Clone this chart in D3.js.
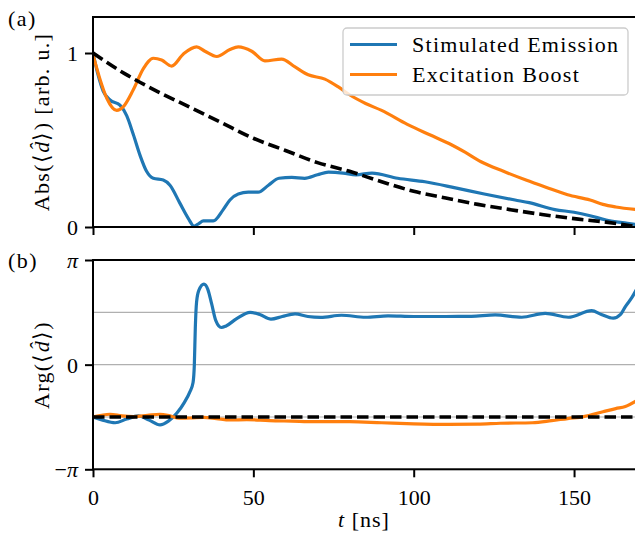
<!DOCTYPE html>
<html><head><meta charset="utf-8">
<script src="https://cdn.jsdelivr.net/npm/d3@7"></script>
<style>
body{margin:0;background:#fff}
text{font-family:"Liberation Serif","Times New Roman",serif;fill:#000}
</style>
</head><body><svg id="c" width="635" height="538"></svg>
<script>
// ---- data ----
const xTicks = [0, 50, 100, 150];
const absTicks = [0, 1];
const argTicks = [-Math.PI, 0, Math.PI];
const argTickSign = ["\u2212", "", ""];
const argTickSym = ["\u03C0", "0", "\u03C0"];
const argGrid = [-Math.PI, -Math.PI / 2, 0, Math.PI / 2, Math.PI];
const seriesNames = ["Stimulated Emission", "Excitation Boost"];

// (a) absolute value
const stimAbsT = [0,1.5,3.2,5.3,8.4,10.5,12.6,14.7,16.7,18.8,21.9,24,27,29.7,31.5,33,34.4,37.5,40.6,42.7,45.3,48.4,51.5,54.7,58,62,66,70,73.4,78,82,87,95,103.5,113,122,131.6,136,144,150,155,160,165,170];
const stimAbs  = [1.0,0.88,0.78,0.73,0.70,0.64,0.53,0.41,0.32,0.28,0.27,0.24,0.14,0.05,0.005,0.02,0.035,0.035,0.10,0.155,0.19,0.20,0.20,0.24,0.28,0.285,0.28,0.30,0.315,0.31,0.30,0.31,0.28,0.26,0.225,0.19,0.155,0.14,0.10,0.085,0.065,0.04,0.025,0.012];

const boostAbsT = [0,2,4.3,7.4,9.4,12.6,15.7,18.8,21.4,24.5,28.2,32.3,34.9,38.6,42.7,45.3,49.5,53.6,58.8,63,67.1,72.3,76.5,80,85,90,98,105,111,116,121,128,135,141,148,155,159,163,170];
const boostAbs  = [0.99,0.86,0.74,0.67,0.69,0.79,0.91,0.97,0.96,0.925,0.995,1.035,1.01,0.98,1.02,1.035,1.01,0.955,0.965,0.92,0.875,0.85,0.805,0.76,0.71,0.67,0.59,0.53,0.48,0.43,0.375,0.32,0.27,0.23,0.185,0.155,0.13,0.115,0.10];

const refAbsT = [0,10,20,30,40,50,60,70,80,90,100,110,120,130,140,150,160,170];
const refAbs  = [1.0,0.88,0.78,0.69,0.60,0.51,0.44,0.37,0.32,0.26,0.205,0.167,0.13,0.10,0.072,0.048,0.028,0.0];

// (b) argument (radians)
const stimArgT = [0,3,6.9,10.5,14.1,17.5,20.9,23.5,26.1,28.5,30.2,31.2,31.6,31.9,32.3,33.0,34.6,35.8,37,38.3,40,41.5,44.8,49,52,55.5,59,63,67,71,77.5,85,92,100,110,118,125.4,133.7,141,148.2,155.5,158.5,162.2,164.5,166,168,170];
const stimArg  = [-1.571,-1.665,-1.744,-1.634,-1.539,-1.665,-1.810,-1.696,-1.461,-1.131,-0.817,-0.534,0.0,1.100,1.885,2.231,2.419,2.262,1.822,1.319,1.115,1.162,1.382,1.571,1.508,1.367,1.445,1.524,1.445,1.420,1.483,1.423,1.464,1.445,1.445,1.451,1.492,1.423,1.539,1.423,1.621,1.508,1.395,1.508,1.744,2.011,2.356];

const boostArgT = [0,5.3,9,12.6,17,20.9,24,27,30.5,34.4,38.5,42.7,48,55,62,69,80,90,100,110.7,120,127,137,143,148,153,159,163,166,170];
const boostArg  = [-1.571,-1.489,-1.539,-1.561,-1.524,-1.489,-1.539,-1.608,-1.602,-1.580,-1.618,-1.662,-1.649,-1.681,-1.696,-1.712,-1.712,-1.744,-1.775,-1.791,-1.784,-1.759,-1.744,-1.681,-1.618,-1.561,-1.414,-1.319,-1.257,-1.052];

const refArgT = [0, 170];
const refArg  = [-1.5708, -1.5708];

// ---- layout ----
const blue = "#1f77b4", orange = "#ff7f0e";
const svg = d3.select("#c");
svg.append("rect").attr("width",635).attr("height",538).attr("fill","#fff");

const x = d3.scaleLinear().domain([0,170]).range([93, 638.2]);
const yA = d3.scaleLinear().domain([0,1.207]).range([227,17]);
const yP = d3.scaleLinear().domain([-Math.PI, Math.PI]).range([469.3, 260]);

const defs = svg.append("defs");
defs.append("clipPath").attr("id","clipA").append("rect")
  .attr("x",x(0)).attr("y",yA(1.207)).attr("width",x(170)-x(0)).attr("height",yA(0)-yA(1.207));
defs.append("clipPath").attr("id","clipB").append("rect")
  .attr("x",x(0)).attr("y",yP(Math.PI)).attr("width",x(170)-x(0)).attr("height",yP(-Math.PI)-yP(Math.PI));

function zip(t, v){ return t.map((d,i)=>[d, v[i]]); }

// ---- panel (b) grid ----
const gB = svg.append("g");
gB.selectAll("line.grid").data(argGrid).join("line")
  .attr("x1",x(0)).attr("x2",x(170))
  .attr("y1",d=>yP(d)).attr("y2",d=>yP(d))
  .attr("stroke","#b0b0b0").attr("stroke-width",1.1);

// ---- lines ----
function drawLine(g, yScale, t, v, color, dash, clip){
  const line = d3.line().x(d=>x(d[0])).y(d=>yScale(d[1])).curve(d3.curveMonotoneX);
  g.append("path").datum(zip(t,v))
    .attr("d", line)
    .attr("fill","none").attr("stroke",color).attr("stroke-width", dash ? 3.6 : 3.2)
    .attr("stroke-linecap", dash ? "butt" : "round")
    .attr("stroke-linejoin","round")
    .attr("stroke-dasharray", dash || null)
    .attr("clip-path", `url(#${clip})`);
}
const gA = svg.append("g");
drawLine(gA, yA, stimAbsT, stimAbs, blue, null, "clipA");
drawLine(gA, yA, boostAbsT, boostAbs, orange, null, "clipA");
drawLine(gA, yA, refAbsT, refAbs, "#000", "11.5,5", "clipA");

drawLine(gB, yP, stimArgT, stimArg, blue, null, "clipB");
drawLine(gB, yP, boostArgT, boostArg, orange, null, "clipB");
drawLine(gB, yP, refArgT, refArg, "#000", "11.5,5", "clipB");

// ---- axes ----
const fs = 22;
function styleAxis(g){
  g.select(".domain").remove();
  g.selectAll(".tick line").attr("stroke","#000").attr("stroke-width",2);
  g.selectAll(".tick text").attr("font-size",fs).attr("font-family","Liberation Serif");
}
// panel a
const axAx = svg.append("g").attr("transform",`translate(0,${yA(0)})`)
  .call(d3.axisBottom(x).tickValues(xTicks).tickSize(8).tickFormat(""));
styleAxis(axAx);
const ayA = svg.append("g").attr("transform",`translate(${x(0)},0)`)
  .call(d3.axisLeft(yA).tickValues(absTicks).tickSize(8).tickPadding(7).tickFormat(d3.format("d")));
styleAxis(ayA);
ayA.selectAll(".tick text").attr("dy","0.34em");

// panel b
const axB = svg.append("g").attr("transform",`translate(0,${yP(-Math.PI)})`)
  .call(d3.axisBottom(x).tickValues(xTicks).tickSize(8).tickFormat(d3.format("d")));
styleAxis(axB);
axB.selectAll(".tick text").attr("y",36).attr("dy",0);
const ayB = svg.append("g").attr("transform",`translate(${x(0)},0)`)
  .call(d3.axisLeft(yP).tickValues(argTicks).tickSize(8).tickPadding(7).tickFormat(""));
styleAxis(ayB);
ayB.selectAll(".tick text").attr("dy","0.34em").each(function(d,i){
  const t = d3.select(this);
  if (argTickSign[i]) t.append("tspan").text(argTickSign[i]);
  t.append("tspan").attr("font-style", argTickSym[i] === "0" ? null : "italic").text(argTickSym[i]);
});

// frames (right spine lies outside the picture)
[[yA(1.207), yA(0)], [yP(Math.PI), yP(-Math.PI)]].forEach(([t,b])=>{
  svg.append("rect").attr("x",x(0)).attr("y",t).attr("width",x(170)-x(0)).attr("height",b-t)
    .attr("fill","none").attr("stroke","#000").attr("stroke-width",2);
});

// ---- legend ----
const leg = svg.append("g");
leg.append("rect").attr("x",343).attr("y",28).attr("width",285).attr("height",67).attr("rx",4)
  .attr("fill","#fff").attr("fill-opacity",0.8).attr("stroke","#cccccc").attr("stroke-width",1.3);
[[seriesNames[0], blue, 44.5],[seriesNames[1], orange, 74.5]].forEach(([name,c,yy])=>{
  leg.append("line").attr("x1",350).attr("x2",397).attr("y1",yy).attr("y2",yy)
    .attr("stroke",c).attr("stroke-width",3.2);
  leg.append("text").attr("x",412).attr("y",yy+7.5).attr("font-size",fs)
    .attr("letter-spacing","1.3px").text(name);
});

// ---- labels ----
svg.append("text").attr("x",8).attr("y",26).attr("font-size",fs).attr("letter-spacing","1.5px").text("(a)");
svg.append("text").attr("x",8).attr("y",268).attr("font-size",fs).attr("letter-spacing","1.5px").text("(b)");

function dLabel(sel, pre, post){
  sel.append("tspan").text(pre + "\u27E8");
  sel.append("tspan").attr("font-style","italic").text("d\u0302");
  sel.append("tspan").text("\u27E9" + post);
}
const la = svg.append("text").attr("transform","translate(49,122) rotate(-90)")
  .attr("text-anchor","middle").attr("font-size",fs).attr("letter-spacing","1.3px");
dLabel(la, "Abs(", ") [arb. u.]");
const lb = svg.append("text").attr("transform","translate(49,365) rotate(-90)")
  .attr("text-anchor","middle").attr("font-size",fs).attr("letter-spacing","1.3px");
dLabel(lb, "Arg(", ")");

const xl = svg.append("text").attr("x",364).attr("y",527).attr("text-anchor","middle").attr("font-size",fs)
  .attr("letter-spacing","1px");
xl.append("tspan").attr("font-style","italic").text("t");
xl.append("tspan").text(" [ns]");
</script>
</body></html>
